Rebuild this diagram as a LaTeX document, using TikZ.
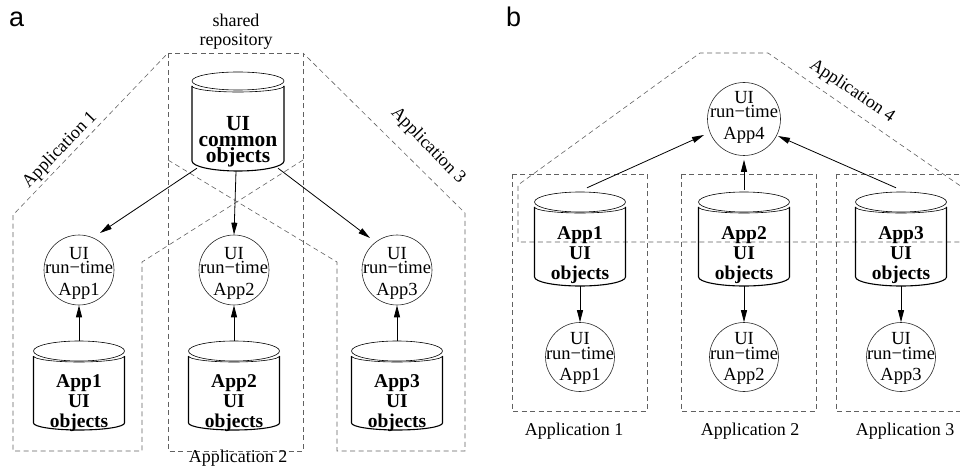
\documentclass[tikz,border=0pt]{standalone}
\usepackage{fontspec}
\setmainfont{Liberation Serif}
\newfontfamily\labelsans{Liberation Sans}
\usetikzlibrary{arrows.meta,calc}

\tikzset{
  region/.style={draw=black!62, line width=0.6pt, dash pattern=on 5pt off 3.5pt},
  flow/.style={draw=black, line width=0.8pt, -{Triangle[length=12pt,width=6pt]}},
  runtime/.style={circle, draw=black!85, line width=0.6pt, minimum size=#1, inner sep=0pt},
  rttext/.style={align=center, inner sep=0pt, font=\fontsize{18.5}{14.5}\selectfont},
  dbtext/.style={align=center, inner sep=0pt, font=\fontsize{19.5}{20}\selectfont\bfseries},
  caption/.style={inner sep=0pt, font=\fontsize{18}{19}\selectfont},
  panel/.style={inner sep=0pt, anchor=base west, font=\labelsans\fontsize{27}{27}\selectfont},
  dbbox/.style={rectangle, inner sep=0pt, draw=none},
  dbthin/.style={draw=black, line width=0.6pt},
  dbthick/.style={draw=black, line width=1.1pt},
}

% database drum: name, centre x, top ellipse centre y, x radius, y radius,
% side height, curvature of the bottom rim
\newcommand{\dbstore}[7]{%
  \node[dbbox, minimum width={2*#4pt}, minimum height={(#5+5+#6+#7)*1pt}]
    (#1) at ({#2},{#3-#5+(#5+5+#6+#7)/2}) {};
  \draw[dbthin] ({#2},{#3}) ellipse [x radius=#4pt, y radius=#5pt];
  \draw[dbthin] ({#2-#4},{#3+5}) arc [start angle=180, end angle=360, x radius=#4pt, y radius=6pt];
  \draw[dbthick] ({#2-#4},{#3+5}) -- ({#2-#4},{#3+5+#6})
    arc [start angle=180, end angle=360, x radius=#4pt, y radius=#7pt] -- ({#2+#4},{#3+5});
}

\begin{document}
\begin{tikzpicture}[x=1pt,y=-1pt]
\useasboundingbox (0,0) rectangle (960,470);
\clip (0,0) rectangle (960,470);

% ---------------- panel a: shared repository ----------------
\node[panel] (pa) at (9,27) {a};

\draw[region] (168,53) rectangle (303,451);
\draw[region] (303,160) -- (142,262) -- (142,451) -- (13,451) -- (13,215) -- (168,53);
\draw[region] (168,160) -- (337,262) -- (337,451) -- (465,451) -- (465,213) -- (303,53);

\node[caption, align=center] (shr) at (236,32) {shared\\repository};
\node[caption, rotate=46] (la1) at (60,150) {Application 1};
\node[caption, rotate=-46] (la3) at (428,146) {Application 3};
\node[caption, anchor=base] (la2) at (238,462) {Application 2};

\dbstore{sh}{238}{81}{46}{9}{75}{10}
\node[dbtext, font=\fontsize{21.5}{16}\selectfont\bfseries] (sht) at (238,142) {UI\\common\\objects};

\node[runtime=70pt] (ra1) at (79,270) {};
\node[rttext] (ra1t) at (79,273) {UI\\run−time\\[7pt]App1};
\node[runtime=70pt] (ra2) at (234,270) {};
\node[rttext] (ra2t) at (234,273) {UI\\run−time\\[7pt]App2};
\node[runtime=70pt] (ra3) at (397,270) {};
\node[rttext] (ra3t) at (397,273) {UI\\run−time\\[7pt]App3};

\dbstore{da1}{79}{351}{45.5}{10}{67}{7}
\node[dbtext] (da1t) at (79,403) {App1\\UI\\objects};
\dbstore{da2}{234}{351}{45.5}{10}{67}{7}
\node[dbtext] (da2t) at (234,403) {App2\\UI\\objects};
\dbstore{da3}{397}{351}{45.5}{10}{67}{7}
\node[dbtext] (da3t) at (397,403) {App3\\UI\\objects};

\draw[flow] ([xshift=-41pt,yshift=3pt]sh.south) -- ($(ra1.center)+(21,-37)$);
\draw[flow] ([xshift=-2pt]sh.south) -- (ra2.north);
\draw[flow] ([xshift=40pt,yshift=3pt]sh.south) -- ($(ra3.center)+(-27,-32)$);
\draw[flow] (da1.north) -- (ra1.south);
\draw[flow] (da2.north) -- (ra2.south);
\draw[flow] (da3.north) -- (ra3.south);

% ---------------- panel b: combined application ----------------
\node[panel] (pb) at (506,27) {b};

\draw[region] (512,174) rectangle (647,411);
\draw[region] (681,174) rectangle (816,411);
\draw[region] (836,174) rectangle (975,411);
\draw[region] (518,242) -- (518,185) -- (700,53) -- (768,53) -- (975,196) -- (975,242) -- cycle;

\node[caption, rotate=-34] (lb4) at (852,91) {Application 4};
\node[caption, anchor=base] (lb1) at (574,435) {Application 1};
\node[caption, anchor=base] (lb2) at (750,435) {Application 2};
\node[caption, anchor=base] (lb3) at (905,435) {Application 3};

\node[runtime=73pt] (app4) at (744,119) {};
\node[rttext] (app4t) at (744,117) {UI\\run−time\\[7pt]App4};

\dbstore{db1}{580}{202}{45.5}{10}{70}{9}
\node[dbtext] (db1t) at (580,255) {App1\\UI\\objects};
\dbstore{db2}{744}{202}{45.5}{10}{70}{9}
\node[dbtext] (db2t) at (744,255) {App2\\UI\\objects};
\dbstore{db3}{901}{202}{45.5}{10}{70}{9}
\node[dbtext] (db3t) at (901,255) {App3\\UI\\objects};

\node[runtime=69pt] (rb1) at (580,357) {};
\node[rttext] (rb1t) at (580,358.5) {UI\\run−time\\[7pt]App1};
\node[runtime=69pt] (rb2) at (744,357) {};
\node[rttext] (rb2t) at (744,358.5) {UI\\run−time\\[7pt]App2};
\node[runtime=69pt] (rb3) at (901,357) {};
\node[rttext] (rb3t) at (901,358.5) {UI\\run−time\\[7pt]App3};

\draw[flow] ([xshift=7pt,yshift=4pt]db1.north) -- ($(app4.center)+(-40,16)$);
\draw[flow] ([yshift=2pt]db2.north) -- ([yshift=-4pt]app4.south);
\draw[flow] ([xshift=-5pt,yshift=4pt]db3.north) -- ($(app4.center)+(34,17)$);
\draw[flow] (db1.south) -- (rb1.north);
\draw[flow] (db2.south) -- (rb2.north);
\draw[flow] (db3.south) -- (rb3.north);
\end{tikzpicture}
\end{document}
